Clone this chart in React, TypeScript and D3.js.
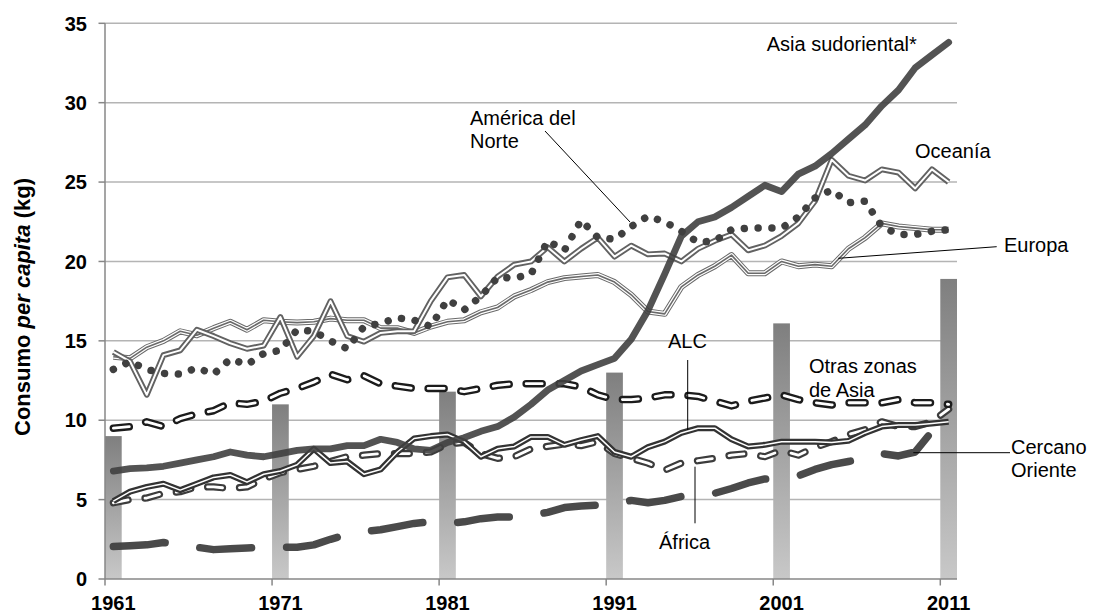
import React from 'react';
import * as d3 from 'd3';

const firstYear = 1961;
const lastYear = 2011;
const years: number[] = d3.range(firstYear, lastYear + 1);

const tickYears = [1961, 1971, 1981, 1991, 2001, 2011];
const yTicks = [0, 5, 10, 15, 20, 25, 30, 35];

// bars (decade markers)
const barYears = [1961, 1971, 1981, 1991, 2001, 2011];
const barValues = [9.0, 11.0, 11.8, 13.0, 16.1, 18.9];

const asiaSudoriental = [
  6.8, 6.95, 7.0, 7.1, 7.3, 7.5, 7.7, 8.0, 7.8, 7.7,
  7.9, 8.1, 8.2, 8.2, 8.4, 8.4, 8.8, 8.6, 8.2, 8.1,
  8.6, 8.9, 9.3, 9.6, 10.2, 11.0, 11.9, 12.5, 13.1, 13.5,
  13.9, 15.1, 16.9, 19.2, 21.6, 22.5, 22.8, 23.4, 24.1, 24.8,
  24.4, 25.5, 26.0, 26.8, 27.7, 28.6, 29.8, 30.8, 32.2, 33.0, 33.8,
];

const oceania = [
  14.3, 13.7, 11.6, 14.1, 14.4, 15.7, 15.3, 14.85, 14.5, 14.7,
  16.5, 14.0, 15.3, 17.5, 15.3, 14.95, 15.5, 15.6, 15.6, 17.5,
  19.0, 19.15, 17.8, 19.05, 19.8, 20.0, 20.9, 20.0, 20.8, 21.5,
  20.3, 21.0, 20.45, 20.5, 20.0, 20.8, 21.3, 21.7, 20.7, 21.0,
  21.6, 22.4, 23.8, 26.4, 25.4, 25.1, 25.8, 25.6, 24.6, 25.8, 25.0,
];

const americaNorte = [
  13.2, 13.7, 13.2, 12.95, 12.9, 13.3, 12.9, 13.85, 13.5, 14.2,
  14.4, 15.7, 15.6, 15.0, 14.5, 15.9, 16.1, 16.45, 16.3, 15.9,
  17.6, 16.95, 17.8, 19.0, 18.95, 19.2, 21.3, 20.7, 22.6, 21.5,
  21.4, 22.2, 22.85, 22.5, 21.9, 21.2, 21.3, 22.0, 22.1, 22.1,
  22.1, 22.8, 24.0, 24.5, 23.7, 23.8, 22.2, 21.7, 21.7, 21.9, 22.0,
];

const europa = [
  14.0, 13.9, 14.6, 15.0, 15.6, 15.35, 15.8, 16.2, 15.7, 16.3,
  16.2, 16.15, 16.2, 16.4, 16.3, 16.3, 15.8, 15.8, 15.5, 15.9,
  16.2, 16.3, 16.8, 17.1, 17.8, 18.2, 18.7, 18.95, 19.05, 19.15,
  18.7, 17.9, 16.85, 16.7, 18.4, 19.15, 19.7, 20.4, 19.26, 19.26,
  20.0, 19.7, 19.8, 19.7, 20.8, 21.5, 22.4, 22.2, 22.1, 22.0, 22.0,
];

const otrasAsia = [
  9.5, 9.6, 9.9, 9.6, 10.1, 10.4, 10.6, 11.1, 11.0, 11.2,
  11.7, 12.0, 12.4, 12.9, 12.55, 12.8, 12.3, 12.15, 12.0, 12.0,
  12.0, 11.8, 12.0, 12.2, 12.3, 12.3, 12.3, 12.3, 12.1, 11.6,
  11.3, 11.3, 11.4, 11.6, 11.6, 11.5, 11.2, 10.9, 11.2, 11.4,
  11.6, 11.3, 11.1, 10.96, 11.1, 11.1, 11.1, 11.3, 11.1, 11.1, 11.0,
];

const alc = [
  4.9, 5.5, 5.8, 6.0, 5.6, 6.0, 6.4, 6.55, 6.1, 6.6,
  6.8, 7.2, 8.2, 7.3, 7.4, 6.6, 6.9, 8.0, 8.85, 9.0,
  9.1, 8.65, 7.7, 8.2, 8.35, 8.95, 8.95, 8.45, 8.75, 9.0,
  8.0, 7.7, 8.3, 8.65, 9.2, 9.5, 9.5, 8.8, 8.35, 8.45,
  8.65, 8.65, 8.65, 8.6, 8.7, 9.2, 9.6, 9.7, 9.7, 9.8, 9.9,
];

const africa = [
  4.8, 5.0, 5.1, 5.4, 5.5, 5.8, 5.8, 5.7, 5.8, 6.3,
  6.7, 6.9, 7.1, 7.4, 7.7, 7.8, 7.9, 7.9, 7.9, 8.0,
  8.5, 8.6, 7.9, 7.6, 7.7, 8.2, 8.35, 8.5, 8.4, 8.65,
  7.9, 7.6, 7.3, 6.85, 7.3, 7.45, 7.6, 7.8, 7.9, 7.7,
  8.1, 7.8, 8.3, 8.65, 9.1, 9.4, 9.9, 9.6, 9.6, 9.9, 10.7,
];

const cercanoOriente = [
  2.05, 2.1, 2.15, 2.3, 2.15, 2.0, 1.85, 1.9, 1.95, 2.0,
  2.0, 2.0, 2.15, 2.5, 2.8, 3.0, 3.1, 3.3, 3.5, 3.6,
  3.5, 3.6, 3.8, 3.9, 3.9, 4.0, 4.2, 4.5, 4.6, 4.65,
  4.7, 4.95, 4.8, 4.95, 5.2, 5.3, 5.4, 5.7, 6.05, 6.3,
  6.4, 6.5, 6.9, 7.2, 7.4, 7.6, 7.9, 7.75, 8.0, 9.3, 9.9,
];

const FONT = "'Liberation Sans', Arial, Helvetica, sans-serif";

export default function App() {
  const W = 1093;
  const H = 612;
  const left = 105;
  const right = 957;
  const top = 23.3;
  const bottom = 579;

  const x = d3.scaleBand<number>().domain(years).range([left, right]).padding(0);
  const y = d3.scaleLinear().domain([0, 35]).range([bottom, top]);
  const bw = x.bandwidth();
  const cx = (yr: number) => (x(yr) as number) + bw / 2;
  const path = (vals: number[]) =>
    d3
      .line<number>()
      .x((_, i) => cx(years[i]))
      .y((v) => y(v))(vals) as string;

  const lbl = { fontFamily: FONT, fontSize: 20, fill: '#000' } as const;

  return (
    <svg
      width={W}
      height={H}
      viewBox={`0 0 ${W} ${H}`}
      style={{ position: 'absolute', left: 0, top: 0, background: '#fff' }}
    >
      <defs>
        <linearGradient id="barGrad" x1="0" y1="0" x2="0" y2="1">
          <stop offset="0" stopColor="#7f7f7f" />
          <stop offset="1" stopColor="#c8c8c8" />
        </linearGradient>
      </defs>
      <rect x={0} y={0} width={W} height={H} fill="#fff" />

      {/* gridlines */}
      {yTicks
        .filter((t) => t > 0)
        .map((t) => (
          <line key={t} x1={left} x2={right} y1={y(t)} y2={y(t)} stroke="#b4b4b4" strokeWidth={1.5} />
        ))}

      {/* bars */}
      {barYears.map((yr, i) => (
        <rect
          key={yr}
          x={x(yr) as number}
          y={y(barValues[i])}
          width={bw}
          height={bottom - y(barValues[i])}
          fill="url(#barGrad)"
        />
      ))}

      {/* axes */}
      <line x1={left} x2={left} y1={top} y2={bottom} stroke="#878787" strokeWidth={1.5} />
      <line x1={left} x2={right} y1={bottom} y2={bottom} stroke="#878787" strokeWidth={1.5} />
      {yTicks.map((t) => (
        <line key={t} x1={left - 6.5} x2={left} y1={y(t)} y2={y(t)} stroke="#878787" strokeWidth={1.5} />
      ))}
      {tickYears.map((yr) => (
        <line key={yr} x1={x(yr) as number} x2={x(yr) as number} y1={bottom} y2={bottom + 6.5} stroke="#878787" strokeWidth={1.5} />
      ))}

      {/* tick labels */}
      {yTicks.map((t) => (
        <text
          key={t}
          x={87}
          y={y(t)}
          dy="0.36em"
          textAnchor="end"
          fontFamily={FONT}
          fontSize={20}
          fontWeight="bold"
          fill="#000"
        >
          {t}
        </text>
      ))}
      {tickYears.map((yr) => (
        <text
          key={yr}
          x={cx(yr)}
          y={609.5}
          textAnchor="middle"
          fontFamily={FONT}
          fontSize={20}
          fontWeight="bold"
          fill="#000"
        >
          {yr}
        </text>
      ))}

      {/* y axis title */}
      <text
        transform={`translate(30, ${(167 + 447) / 2}) rotate(-90)`}
        textAnchor="middle"
        fontFamily={FONT}
        fontSize={22}
        fontWeight="bold"
        fill="#000"
      >
        Consumo <tspan fontStyle="italic">per capita</tspan> (kg)
      </text>

      {/* Cercano Oriente: thick long dash */}
      <path
        d={path(cercanoOriente)}
        fill="none"
        stroke="#404040"
        strokeWidth={7.5}
        strokeDasharray="52 35"
        strokeLinecap="round"
        strokeLinejoin="round"
        opacity={0.95}
      />

      {/* África: outlined dashes */}
      <path d={path(africa)} fill="none" stroke="#3c3c3c" strokeWidth={7.2} strokeDasharray="15 17" strokeLinecap="round" strokeLinejoin="round" />
      <path d={path(africa)} fill="none" stroke="#fff" strokeWidth={2.8} strokeDasharray="15 17" strokeLinecap="round" strokeLinejoin="round" />

      {/* ALC: dark double line */}
      <path d={path(alc)} fill="none" stroke="#333" strokeWidth={6} strokeLinejoin="round" />
      <path d={path(alc)} fill="none" stroke="#fff" strokeWidth={1.5} strokeLinejoin="round" />

      {/* Otras zonas de Asia: outlined dashes */}
      <path d={path(otrasAsia)} fill="none" stroke="#1c1c1c" strokeWidth={7.5} strokeDasharray="16 17" strokeLinecap="round" strokeLinejoin="round" />
      <path d={path(otrasAsia)} fill="none" stroke="#fff" strokeWidth={2.8} strokeDasharray="16 17" strokeLinecap="round" strokeLinejoin="round" />

      {/* Europa: triple line */}
      <path d={path(europa)} fill="none" stroke="#6a6a6a" strokeWidth={6} strokeLinejoin="round" />
      <path d={path(europa)} fill="none" stroke="#fff" strokeWidth={4} strokeLinejoin="round" />
      <path d={path(europa)} fill="none" stroke="#6a6a6a" strokeWidth={1.6} strokeLinejoin="round" />

      {/* Oceanía: gray double line */}
      <path d={path(oceania)} fill="none" stroke="#626262" strokeWidth={5.8} strokeLinejoin="round" />
      <path d={path(oceania)} fill="none" stroke="#fff" strokeWidth={2} strokeLinejoin="round" />

      {/* Asia sudoriental: thick solid */}
      <path d={path(asiaSudoriental)} fill="none" stroke="#404040" strokeWidth={6.8} strokeLinecap="round" strokeLinejoin="round" opacity={0.9} />

      {/* América del Norte: round dots */}
      <path
        d={path(americaNorte)}
        fill="none"
        stroke="#404040"
        strokeWidth={7.5}
        strokeDasharray="0.01 13.8"
        strokeLinecap="round"
      />

      {/* leader lines */}
      <g stroke="#000" strokeWidth={1}>
        <line x1={545} y1={131} x2={630} y2={222} />
        <line x1={996.7} y1={246.7} x2={838.3} y2={258.3} />
        <line x1={687.7} y1={360} x2={687.7} y2={430} />
        <line x1={695} y1={466.7} x2={695} y2={523.3} />
        <line x1={1010} y1={452.7} x2={913.3} y2={452.7} />
      </g>

      {/* labels */}
      <text {...lbl} x={766.7} y={51}>Asia sudoriental*</text>
      <text {...lbl} x={470} y={125}>América del</text>
      <text {...lbl} x={470} y={148.3}>Norte</text>
      <text {...lbl} x={915} y={158}>Oceanía</text>
      <text {...lbl} x={1004} y={252}>Europa</text>
      <text {...lbl} x={668} y={348}>ALC</text>
      <text {...lbl} x={809} y={372.7}>Otras zonas</text>
      <text {...lbl} x={809} y={396.7}>de Asia</text>
      <text {...lbl} x={1011} y={453.5}>Cercano</text>
      <text {...lbl} x={1011} y={477}>Oriente</text>
      <text {...lbl} x={659} y={549}>África</text>
    </svg>
  );
}
